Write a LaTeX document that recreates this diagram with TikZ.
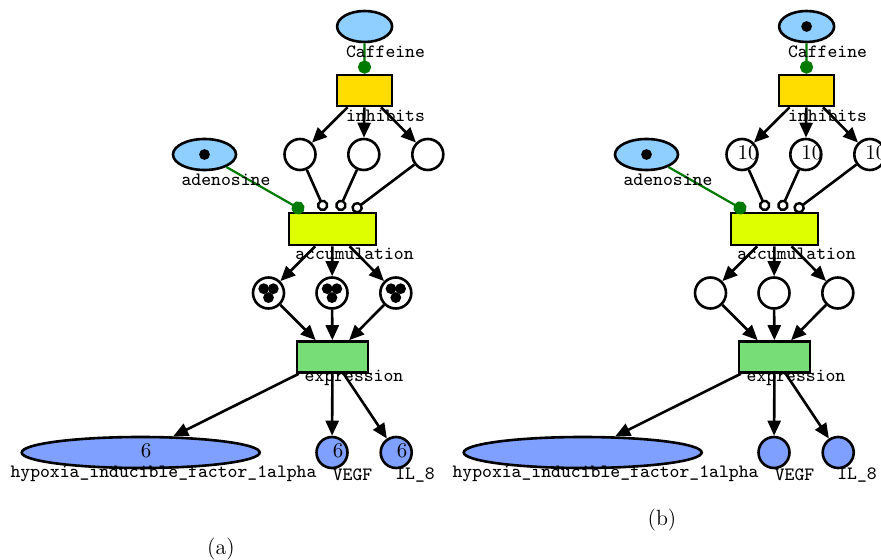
\documentclass[tikz,border=0pt]{standalone}
\usetikzlibrary{arrows.meta,calc,shapes.geometric}
\definecolor{pblue}{HTML}{8FCFFF}
\definecolor{pgold}{HTML}{FFDD00}
\definecolor{pyel}{HTML}{DDFF00}
\definecolor{pgreen}{HTML}{77DD77}
\definecolor{pout}{HTML}{7FA0FF}
\definecolor{rgreen}{HTML}{007A00}
\tikzset{
  pnplace/.style={circle,draw,fill=white,minimum size=15.5pt,inner sep=0pt},
  outplace/.style={pnplace,fill=pout},
  inplace/.style={ellipse,draw,fill=pblue,minimum height=15.5pt,inner sep=0pt},
  pntrans/.style={rectangle,draw,minimum height=15.5pt,inner sep=0pt},
  lbl/.style={font=\fontsize{9.4}{11}\selectfont\ttfamily,inner sep=0pt},
  numtxt/.style={font=\fontsize{10.5}{12}\selectfont,inner sep=0pt},
  captxt/.style={font=\fontsize{11}{13}\selectfont,inner sep=0pt},
  pnarc/.style={-{Triangle[length=7.5pt,width=6.5pt]}},
  inhib/.style={-{Circle[open,length=5.8pt,width=5.8pt,line width=1.2pt]}},
  readarc/.style={rgreen,line width=1.1pt,-{Circle[length=6.6pt,width=6.6pt]}},
  tok/.style={circle,fill=black,inner sep=0pt,minimum size=5.4pt},
}
\newcommand\onetok[1]{\node[tok] at (#1) {};}
\newcommand\threetok[1]{%
  \node[tok] at ($(#1)+(-4.8,-4.3)$) {};
  \node[tok] at ($(#1)+(4.8,-4.3)$) {};
  \node[tok] at ($(#1)+(0,4.6)$) {};}
% #1 prefix, #2 x-shift
\newcommand\petripanel[2]{%
\begin{scope}[xshift=#2]
  \node[inplace,minimum width=27.5pt] (#1caf) at (364.6,26.5) {};
  \node[pntrans,fill=pgold,minimum width=27.5pt] (#1inh) at (364.5,90.5) {};
  \node[pnplace] (#1t1) at (300,154.5) {};
  \node[pnplace] (#1t2) at (363.8,154.5) {};
  \node[pnplace] (#1t3) at (427.8,154.5) {};
  \node[inplace,minimum width=31.5pt] (#1ade) at (204.5,154.5) {};
  \node[pntrans,fill=pyel,minimum width=43.5pt,minimum height=16pt] (#1acc) at (332.5,229) {};
  \node[pnplace] (#1m1) at (268.5,293) {};
  \node[pnplace] (#1m2) at (332,293) {};
  \node[pnplace] (#1m3) at (395.8,293) {};
  \node[pntrans,fill=pgreen,minimum width=35.5pt] (#1exp) at (332.5,357) {};
  \node[ellipse,draw,fill=pout,minimum width=119pt,minimum height=15.5pt,inner sep=0pt] (#1hyp) at (140.7,452.5) {};
  \node[outplace] (#1veg) at (332,452.5) {};
  \node[outplace] (#1il) at (396.2,452.5) {};
  \coordinate (#1i1) at ($(#1acc.north)+(-7.5,-1)$);
  \coordinate (#1i2) at ($(#1acc.north)+(6,-1)$);
  \coordinate (#1i3) at ($(#1acc.north)+(20,-0.5)$);
  \coordinate (#1r1) at ($(#1acc.north west)+(16,-0.5)$);
  \draw[readarc] (#1caf) -- (#1inh);
  \draw[readarc] (#1ade) -- (#1r1);
  \foreach \t in {t1,t2,t3} {\draw[pnarc] (#1inh) -- (#1\t);}
  \draw[inhib] (#1t1) -- (#1i1);
  \draw[inhib] (#1t2) -- (#1i2);
  \draw[inhib] (#1t3) -- (#1i3);
  \foreach \m in {m1,m2,m3} {\draw[pnarc] (#1acc) -- (#1\m); \draw[pnarc] (#1\m) -- (#1exp);}
  \draw[pnarc] (#1exp) -- (#1hyp);
  \draw[pnarc] (#1exp) -- (#1veg);
  \draw[pnarc] (#1exp) -- (#1il);
  \node[lbl] (#1lcaf) at (385.5,52) {Caffeine};
  \node[lbl] (#1linh) at (385.5,116) {inhibits};
  \node[lbl] (#1lade) at (226,180) {adenosine};
  \node[lbl] (#1lacc) at (354.5,254) {accumulation};
  \node[lbl] (#1lexp) at (354,378) {expression};
  \node[lbl] (#1lhyp) at (163.5,474) {hypoxia\_inducible\_factor\_1alpha};
  \node[lbl] (#1lveg) at (352.5,475) {VEGF};
  \node[lbl] (#1lil) at (415,475) {IL\_8};
  \onetok{#1ade}
\end{scope}}
\begin{document}
\begin{tikzpicture}[x=0.5pt,y=-0.5pt,line width=1.3pt]
\useasboundingbox (0,0) rectangle (881,560);
\petripanel{a}{0}
\petripanel{b}{221pt}
% panel (a) markings
\threetok{am1}
\threetok{am2}
\threetok{am3}
\node[numtxt] (ahypn) at ($(ahyp)+(5.5,-2)$) {6};
\node[numtxt] (avegn) at ($(aveg)+(6,-2)$) {6};
\node[numtxt] (ailn) at ($(ail)+(6,-2)$) {6};
\node[captxt] (capa) at (221,549) {(a)};
% panel (b) markings
\onetok{bcaf}
\node[numtxt] (bt1n) at ($(bt1)+(6,-1.5)$) {10};
\node[numtxt] (bt2n) at ($(bt2)+(6,-1.5)$) {10};
\node[numtxt] (bt3n) at ($(bt3)+(6,-1.5)$) {10};
\node[captxt] (capb) at (662,520) {(b)};
\end{tikzpicture}
\end{document}
